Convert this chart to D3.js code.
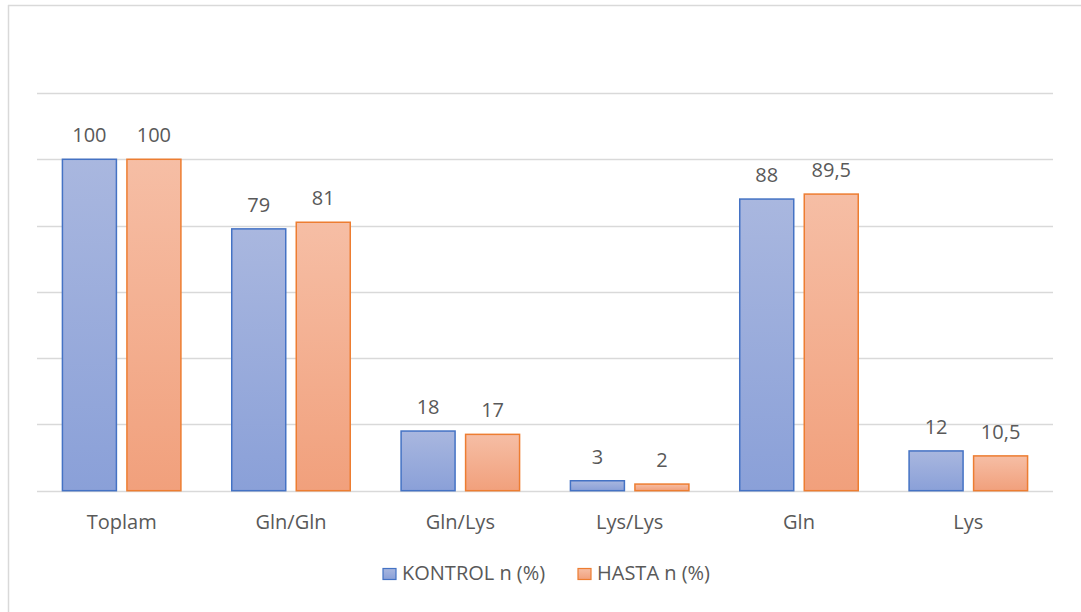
<!DOCTYPE html>
<html>
<head>
<meta charset="utf-8">
<script src="https://cdn.jsdelivr.net/npm/d3@7"></script>
<style>
  html, body { margin: 0; padding: 0; background: #fff; }
  svg { display: block; }
</style>
</head>
<body>
<svg id="chart" width="1081" height="612"></svg>
<script>
// Genotype / allele distribution, percent of group
const categories = ["Toplam", "Gln/Gln", "Gln/Lys", "Lys/Lys", "Gln", "Lys"];
const seriesNames = ["KONTROL n (%)", "HASTA n (%)"];
const kontrol = [100, 79, 18, 3, 88, 12];
const hasta = [100, 81, 17, 2, 89.5, 10.5];
const yTicks = [0, 20, 40, 60, 80, 100, 120];

const values = [kontrol, hasta];
const rows = categories.map((c, i) => ({
  category: c,
  bars: seriesNames.map((s, j) => ({ series: s, value: values[j][i] }))
}));

const svg = d3.select("#chart");
const textColor = "#595959";
const gridColor = "#d9d9d9";
const font = "'Open Sans', 'Liberation Sans', sans-serif";

const palette = {
  "KONTROL n (%)": { top: "#a9b7df", bottom: "#8aa0d8", stroke: "#4472c4" },
  "HASTA n (%)": { top: "#f6bea5", bottom: "#f1a07c", stroke: "#ed7d31" }
};

// vertical gradients per bar
const defs = svg.append("defs");
seriesNames.forEach((s, j) => {
  const g = defs.append("linearGradient")
    .attr("id", "grad" + j)
    .attr("x1", 0).attr("y1", 0).attr("x2", 0).attr("y2", 1);
  g.append("stop").attr("offset", "0%").attr("stop-color", palette[s].top);
  g.append("stop").attr("offset", "100%").attr("stop-color", palette[s].bottom);
});

// chart frame
svg.append("line").attr("x1", 8.5).attr("x2", 8.5).attr("y1", 5).attr("y2", 612)
  .attr("stroke", gridColor).attr("stroke-width", 1.5);
svg.append("line").attr("x1", 8).attr("x2", 1081).attr("y1", 5.5).attr("y2", 5.5)
  .attr("stroke", gridColor).attr("stroke-width", 1.5);

const plot = { left: 37, right: 1053, top: 93, bottom: 490.7 };

const x0 = d3.scaleBand().domain(categories).range([plot.left, plot.right]);
const x1 = d3.scaleBand().domain(seriesNames).range([0, x0.bandwidth()])
  .paddingInner(0.163).paddingOuter(0.394);
const y = d3.scaleLinear().domain([0, 120]).range([plot.bottom, plot.top]);

// horizontal gridlines
svg.append("g").selectAll("line").data(yTicks).join("line")
  .attr("x1", plot.left).attr("x2", plot.right)
  .attr("y1", d => Math.round(y(d)) + 0.5).attr("y2", d => Math.round(y(d)) + 0.5)
  .attr("stroke", gridColor).attr("stroke-width", 1.3);

// bars
const groups = svg.append("g").selectAll("g").data(rows).join("g")
  .attr("transform", d => `translate(${x0(d.category)},0)`);

groups.selectAll("rect").data(d => d.bars).join("rect")
  .attr("x", d => x1(d.series))
  .attr("y", d => y(d.value))
  .attr("width", x1.bandwidth())
  .attr("height", d => y(0) - y(d.value))
  .attr("fill", d => `url(#grad${seriesNames.indexOf(d.series)})`)
  .attr("stroke", d => palette[d.series].stroke)
  .attr("stroke-width", 1.5);

// value labels
groups.selectAll("text").data(d => d.bars).join("text")
  .attr("x", d => x1(d.series) + x1.bandwidth() / 2)
  .attr("y", d => y(d.value) - 17)
  .attr("text-anchor", "middle")
  .attr("font-family", font)
  .attr("font-size", 20)
  .attr("fill", textColor)
  .text(d => String(d.value).replace(".", ","));

// category axis labels
const xAxis = d3.axisBottom(x0).tickSize(0).tickPadding(0);
const axisG = svg.append("g").attr("transform", `translate(0,${plot.bottom})`).call(xAxis);
axisG.select(".domain").remove();
axisG.selectAll("text")
  .attr("y", 38)
  .attr("dy", 0)
  .attr("font-family", font)
  .attr("font-size", 20)
  .attr("fill", textColor);

// legend
const legendItems = [
  { name: seriesNames[0], x: 383 },
  { name: seriesNames[1], x: 578 }
];
const legend = svg.append("g").selectAll("g").data(legendItems).join("g")
  .attr("transform", d => `translate(${d.x},568.5)`);
legend.append("rect")
  .attr("width", 13).attr("height", 11)
  .attr("fill", d => `url(#grad${seriesNames.indexOf(d.name)})`)
  .attr("stroke", d => palette[d.name].stroke)
  .attr("stroke-width", 1.2);
legend.append("text")
  .attr("x", 19).attr("y", 11.5)
  .attr("font-family", font)
  .attr("font-size", 20)
  .attr("fill", textColor)
  .text(d => d.name);
</script>
</body>
</html>
